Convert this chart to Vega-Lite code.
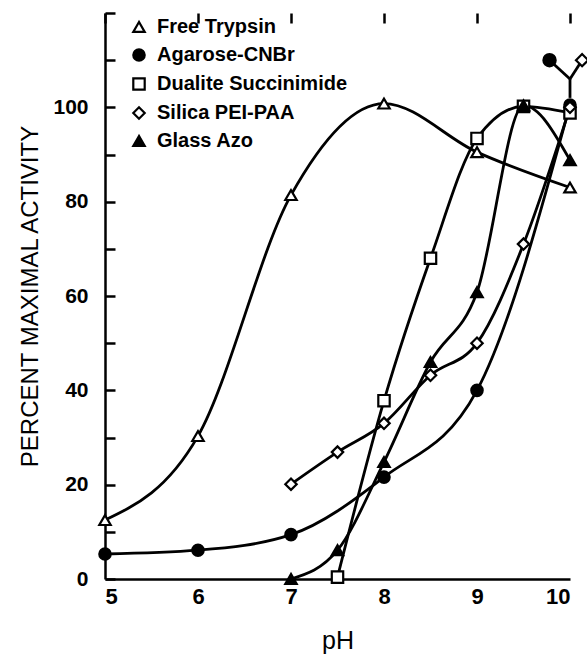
{
  "$schema": "https://vega.github.io/schema/vega-lite/v6.json",
  "width": 465,
  "height": 566,
  "autosize": "none",
  "padding": {"left": 105, "top": 13, "right": 17, "bottom": 75},
  "config": {
    "view": {"stroke": null},
    "font": "Liberation Sans",
    "axis": {
      "domainColor": "black", "domainWidth": 2.5,
      "labelColor": "black", "titleColor": "black",
      "labelFont": "Liberation Sans", "titleFont": "Liberation Sans",
      "titleFontWeight": "normal", "labelFontWeight": "bold",
      "grid": true, "gridColor": "black", "gridOpacity": 1, "gridWidth": 2.5, "gridDash": [10, 3000]
    }
  },
  "datasets": {
    "main": [
      {"series": "Free Trypsin", "pH": 5, "activity": 12.5},
      {"series": "Free Trypsin", "pH": 6, "activity": 30.3},
      {"series": "Free Trypsin", "pH": 7, "activity": 81.4},
      {"series": "Free Trypsin", "pH": 8, "activity": 100.8},
      {"series": "Free Trypsin", "pH": 9, "activity": 90.5},
      {"series": "Free Trypsin", "pH": 10, "activity": 83},
      {"series": "Agarose-CNBr", "pH": 5, "activity": 5.3},
      {"series": "Agarose-CNBr", "pH": 6, "activity": 6.1},
      {"series": "Agarose-CNBr", "pH": 7, "activity": 9.4},
      {"series": "Agarose-CNBr", "pH": 8, "activity": 21.6},
      {"series": "Agarose-CNBr", "pH": 9, "activity": 40},
      {"series": "Agarose-CNBr", "pH": 10, "activity": 100.5},
      {"series": "Dualite Succinimide", "pH": 7.5, "activity": 0.4},
      {"series": "Dualite Succinimide", "pH": 8, "activity": 37.8},
      {"series": "Dualite Succinimide", "pH": 8.5, "activity": 68},
      {"series": "Dualite Succinimide", "pH": 9, "activity": 93.4},
      {"series": "Dualite Succinimide", "pH": 9.5, "activity": 100.2},
      {"series": "Dualite Succinimide", "pH": 10, "activity": 98.8},
      {"series": "Silica PEI-PAA", "pH": 7, "activity": 20.1},
      {"series": "Silica PEI-PAA", "pH": 7.5, "activity": 26.9},
      {"series": "Silica PEI-PAA", "pH": 8, "activity": 33},
      {"series": "Silica PEI-PAA", "pH": 8.5, "activity": 43.2},
      {"series": "Silica PEI-PAA", "pH": 9, "activity": 50},
      {"series": "Silica PEI-PAA", "pH": 9.5, "activity": 71},
      {"series": "Silica PEI-PAA", "pH": 10, "activity": 100},
      {"series": "Glass Azo", "pH": 7, "activity": 0},
      {"series": "Glass Azo", "pH": 7.5, "activity": 6.1},
      {"series": "Glass Azo", "pH": 8, "activity": 24.8},
      {"series": "Glass Azo", "pH": 8.5, "activity": 46},
      {"series": "Glass Azo", "pH": 9, "activity": 60.8},
      {"series": "Glass Azo", "pH": 9.5, "activity": 100.4},
      {"series": "Glass Azo", "pH": 10, "activity": 88.8}
    ],
    "callout": [
      {"seg": "a", "series": "Agarose-CNBr", "pH": 9.78, "activity": 110},
      {"seg": "a", "series": "Agarose-CNBr", "pH": 10, "activity": 106},
      {"seg": "b", "series": "Silica PEI-PAA", "pH": 10.13, "activity": 110},
      {"seg": "b", "series": "Silica PEI-PAA", "pH": 10, "activity": 106},
      {"seg": "c", "series": "Agarose-CNBr", "pH": 10, "activity": 106},
      {"seg": "c", "series": "Agarose-CNBr", "pH": 10, "activity": 102}
    ],
    "calloutPoints": [
      {"series": "Agarose-CNBr", "pH": 9.78, "activity": 110},
      {"series": "Silica PEI-PAA", "pH": 10.13, "activity": 110}
    ]
  },
  "layer": [
    {
      "data": {"name": "main"},
      "mark": {"type": "line", "interpolate": "monotone", "color": "black", "strokeWidth": 2.8},
      "encoding": {
        "x": {"field": "pH", "type": "quantitative",
          "scale": {"domain": [5, 10], "nice": false, "zero": false},
          "axis": {"values": [5, 6, 7, 8, 9, 10], "format": "d", "ticks": false, "labelPadding": 7,
            "labelFontSize": 22, "title": "pH", "titleFontSize": 25, "titlePadding": 21}},
        "y": {"field": "activity", "type": "quantitative",
          "scale": {"domain": [0, 120], "nice": false},
          "axis": {"values": [0, 10, 20, 30, 40, 50, 60, 70, 80, 90, 100, 110, 120], "ticks": false,
            "labelExpr": "datum.value % 20 == 0 && datum.value <= 100 ? datum.label : ''",
            "labelPadding": 17, "labelFontSize": 21,
            "title": "PERCENT MAXIMAL ACTIVITY", "titleFontSize": 24, "titlePadding": 10}},
        "detail": {"field": "series"}
      }
    },
    {
      "data": {"name": "callout"},
      "mark": {"type": "line", "color": "black", "strokeWidth": 2.8},
      "encoding": {
        "x": {"field": "pH", "type": "quantitative"},
        "y": {"field": "activity", "type": "quantitative"},
        "detail": {"field": "seg"}
      }
    },
    {
      "data": {"name": "main"},
      "mark": {"type": "point", "stroke": "black", "strokeWidth": 2.2, "opacity": 1, "size": 130},
      "encoding": {
        "x": {"field": "pH", "type": "quantitative"},
        "y": {"field": "activity", "type": "quantitative"},
        "shape": {"field": "series", "type": "nominal",
          "scale": {"domain": ["Free Trypsin", "Agarose-CNBr", "Dualite Succinimide", "Silica PEI-PAA", "Glass Azo"],
            "range": ["triangle-up", "circle", "square", "diamond", "triangle-up"]},
          "legend": {"title": null, "orient": "none", "legendX": 24, "legendY": 4, "labelFontSize": 20,
            "labelFontWeight": "bold", "labelLimit": 400,
            "labelColor": "black", "symbolSize": 130, "symbolStrokeWidth": 2.2, "symbolStrokeColor": "black",
            "rowPadding": 7, "labelOffset": 8, "padding": 0,
            "symbolOpacity": 1,
            "encode": {"symbols": {"update": {"stroke": {"value": "black"}, "strokeWidth": {"value": 2.2}}}}}},
        "fill": {"field": "series", "type": "nominal",
          "scale": {"domain": ["Free Trypsin", "Agarose-CNBr", "Dualite Succinimide", "Silica PEI-PAA", "Glass Azo"],
            "range": ["white", "black", "white", "white", "black"]},
          "legend": {"title": null, "orient": "none", "legendX": 24, "legendY": 4, "labelFontSize": 20,
            "labelFontWeight": "bold", "labelLimit": 400,
            "labelColor": "black", "symbolSize": 130, "symbolStrokeWidth": 2.2, "symbolStrokeColor": "black",
            "rowPadding": 7, "labelOffset": 8, "padding": 0,
            "symbolOpacity": 1,
            "encode": {"symbols": {"update": {"stroke": {"value": "black"}, "strokeWidth": {"value": 2.2}}}}}}
      }
    },
    {
      "data": {"name": "calloutPoints"},
      "mark": {"type": "point", "stroke": "black", "strokeWidth": 2.2, "opacity": 1, "size": 150},
      "encoding": {
        "x": {"field": "pH", "type": "quantitative"},
        "y": {"field": "activity", "type": "quantitative"},
        "shape": {"field": "series", "type": "nominal"},
        "fill": {"field": "series", "type": "nominal"}
      }
    }
  ]
}
